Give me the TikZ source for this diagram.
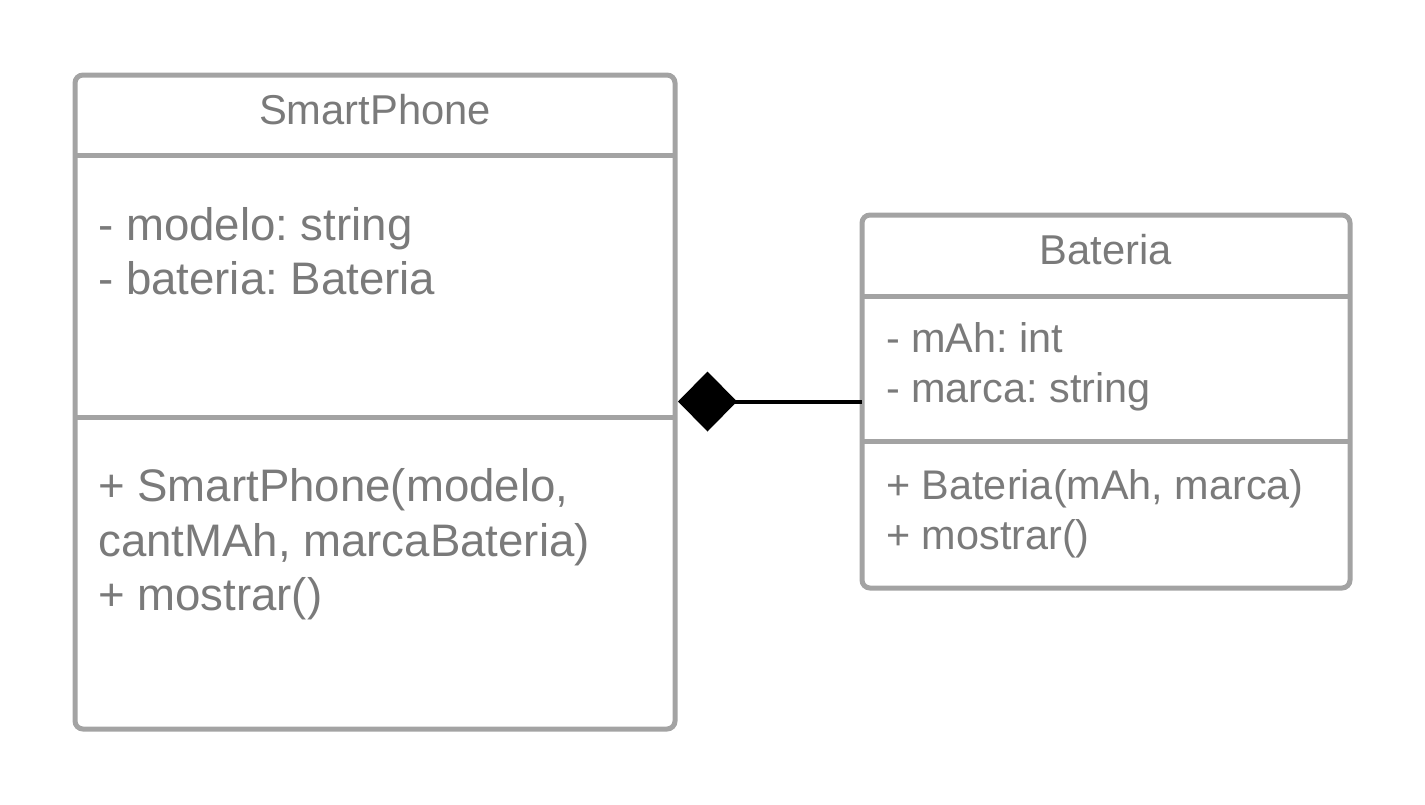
\documentclass[tikz,border=0pt]{standalone}
\usepackage{fontspec}
\setmainfont{Liberation Sans}
\usetikzlibrary{arrows.meta}
\definecolor{boxgray}{HTML}{A3A3A3}
\definecolor{txtgray}{HTML}{7A7A7A}
\frenchspacing
\begin{document}
\begin{tikzpicture}[x=1pt,y=-1pt,
  classbox/.style={draw=boxgray, line width=5pt, rounded corners=8pt, inner sep=0pt, outer sep=0pt, rectangle},
  sepline/.style={draw=boxgray, line width=5pt},
  hdr/.style={text=txtgray, font=\fontsize{41.7}{49}\selectfont, anchor=base, inner sep=0pt},
  bigtxt/.style={text=txtgray, font=\fontsize{45.6}{54}\selectfont, anchor=base west, inner sep=0pt},
  smalltxt/.style={text=txtgray, font=\fontsize{41.4}{49}\selectfont, anchor=base west, inner sep=0pt},
  comp/.style={draw=black, line width=4pt, {Diamond[length=59pt,width=60pt,line width=0pt]}-}
]
\useasboundingbox (0,0) rectangle (1425,804);
% SmartPhone class
\node[classbox, minimum width=600pt, minimum height=654pt] (sp) at (375,402) {};
\draw[sepline] (sp.west |- 0,155) coordinate (sps1a) -- (sp.east |- 0,155) coordinate (sps1b);
\draw[sepline] (sp.west |- 0,417) coordinate (sps2a) -- (sp.east |- 0,417) coordinate (sps2b);
\node[hdr] (sptitle) at (375,124) {SmartPhone};
\node[bigtxt] (spa1) at (98,240) {- modelo: string};
\node[bigtxt] (spa2) at (98,294) {- bateria: Bateria};
\node[bigtxt] (spm1) at (98,501) {+ SmartPhone(modelo,};
\node[bigtxt] (spm2) at (98,556) {cantMAh, marcaBateria)};
\node[bigtxt] (spm3) at (98,610) {+ mostrar()};
% Bateria class
\node[classbox, minimum width=488pt, minimum height=373pt] (bat) at (1106,401.5) {};
\draw[sepline] (bat.west |- 0,296) coordinate (bs1a) -- (bat.east |- 0,296) coordinate (bs1b);
\draw[sepline] (bat.west |- 0,441) coordinate (bs2a) -- (bat.east |- 0,441) coordinate (bs2b);
\node[hdr] (battitle) at (1106,264) {Bateria};
\node[smalltxt] (ba1) at (886,352) {- mAh: int};
\node[smalltxt] (ba2) at (886,402) {- marca: string};
\node[smalltxt] (bm1) at (886,499) {+ Bateria(mAh, marca)};
\node[smalltxt] (bm2) at (886,549) {+ mostrar()};
% composition
\coordinate (c1) at (678,401.5);
\coordinate (c2) at (bat.west |- 0,401.5);
\draw[comp] (c1) -- (c2);
\end{tikzpicture}
\end{document}
